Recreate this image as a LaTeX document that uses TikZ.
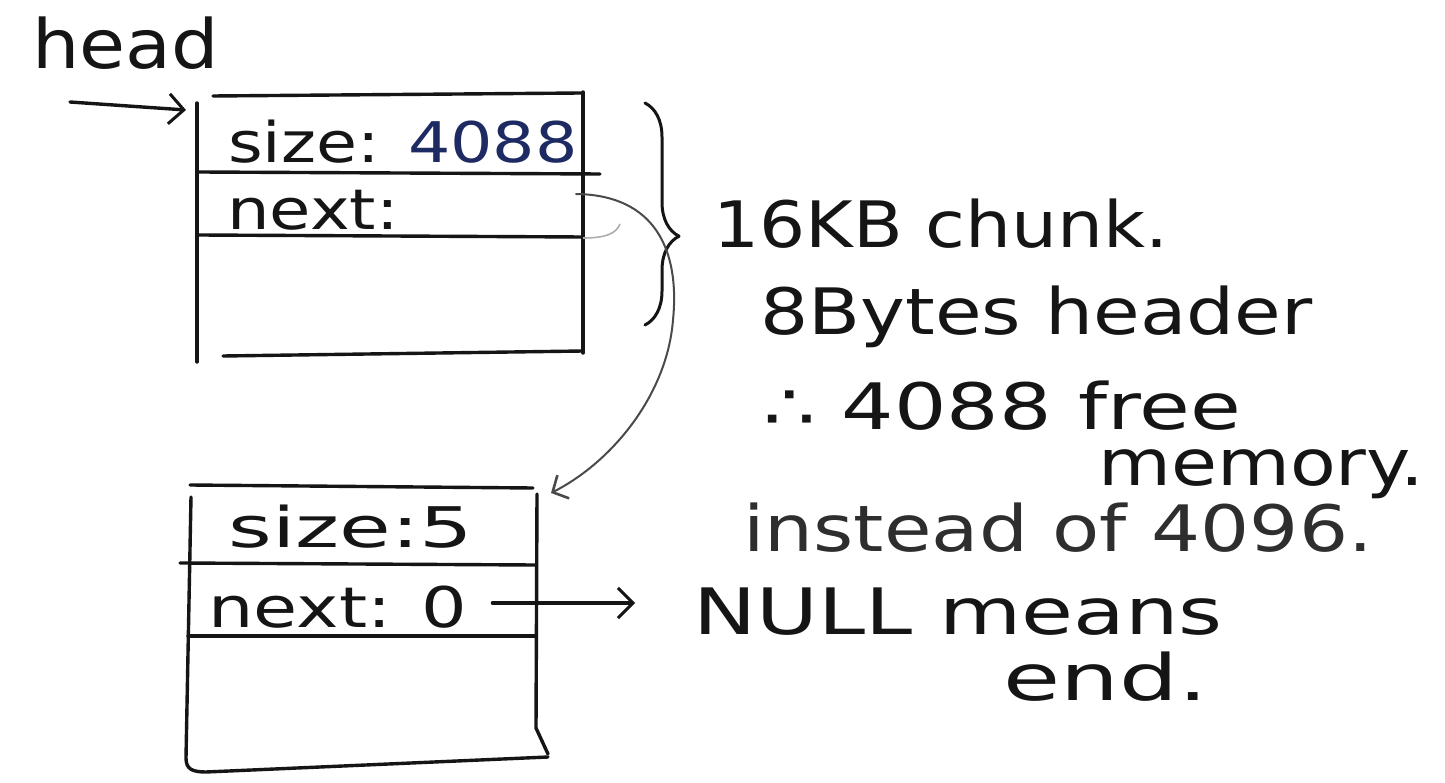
\documentclass[tikz,border=0pt]{standalone}
\usepackage{fontspec}
\setmainfont{DejaVu Sans}
\usetikzlibrary{arrows.meta,decorations.pathreplacing}
\definecolor{ink}{HTML}{151515}
\definecolor{blueink}{HTML}{1E2A62}
\definecolor{pencil}{HTML}{4A4A4A}
\definecolor{greyink}{HTML}{2E2E2E}
\begin{document}
\begin{tikzpicture}[x=1pt,y=-1pt,
  boxline/.style={draw=ink, line width=3.4pt, line cap=round, line join=round},
  thinline/.style={draw=pencil, line width=2pt, line cap=round},
  note/.style={font=\fontsize{64}{70}\selectfont, text=ink, inner sep=0pt,
               anchor=base west, transform shape},
  field/.style={note, font=\fontsize{56}{62}\selectfont},
  barb/.style={-{Straight Barb[length=15pt,width=30pt,line width=3pt]}}]
\fill[white] (0,0) rectangle (1445,783);
\useasboundingbox (0,0) rectangle (1445,783);

% ---------- first block (16KB chunk) ----------
\draw[boxline] (213,96) -- (581,93);
\draw[boxline] (197,103) -- (197,362);
\draw[boxline] (583,92) -- (583,353);
\draw[boxline] (199,172) -- (600,174);
\draw[boxline] (199,235) -- (583,237);
\draw[boxline] (223,356) -- (583,351);
% faint pencil stroke beside the next field
\draw[draw=pencil!45, line width=1.6pt] (583,238) .. controls (605,238) and (616,234) .. (620,224);

\node[field, xscale=1.19] (size1) at (228,163) {size: \textcolor{blueink}{4088}};
\node[field, xscale=1.2] (next1) at (227,230) {next:};

% list head
\node[note, font=\fontsize{68}{72}\selectfont, xscale=1.1] (head) at (32,69) {head};
\coordinate (headtail) at (70,102);
\coordinate (b1in) at (186,110);
\draw[boxline, barb] (headtail) -- (b1in);

% brace over the whole chunk
\coordinate (braceTop) at (645,103);
\coordinate (braceBot) at (645,325);
\draw[boxline, line width=3pt, decorate,
      decoration={brace, amplitude=34pt, aspect=0.6}] (braceTop) -- (braceBot);

\node[note, xscale=1.134] (chunk) at (713,248) {16KB chunk.};
\node[note, xscale=1.185] (hdr)   at (760,335) {8Bytes header};
\node[note, xscale=1.29]  (free)  at (763,429) {∴ 4088 free};
\node[note, xscale=1.17]  (mem)   at (1098,485) {memory.};
\node[note, xscale=1.207, text=greyink] (inst) at (743,551) {instead of 4096.};

% ---------- second block ----------
\draw[boxline] (190,485) -- (533,488);
\draw[boxline] (191,497) -- (186,758) .. controls (186,769) and (192,772) .. (206,772) -- (548,757);
\draw[boxline] (537,494) -- (536,728) -- (548,754);
\draw[boxline] (180,563) -- (535,565);
\draw[boxline] (188,636) -- (535,636);

\node[field, xscale=1.5]  (size2) at (228,547) {size:5};
\node[field, xscale=1.28] (next2) at (208,627) {next: 0};

% next pointer of the first block leads to the second block
\coordinate (n1out) at (576,194);
\coordinate (b2in)  at (551,493);
\draw[thinline, -{Straight Barb[length=12pt,width=26pt,line width=2.6pt]}]
  (n1out) .. controls (655,195) and (680,250) .. (673,320)
          .. controls (667,395) and (612,462) .. (b2in);

% end of list
\node[note, xscale=1.32] (null) at (693,634) {NULL means};
\node[note, xscale=1.45] (endl) at (1003,700) {end.};
\draw[boxline, barb] ([xshift=25pt,yshift=24pt]next2.base east) -- ([xshift=-58pt,yshift=31pt]null.base west);
\end{tikzpicture}
\end{document}
